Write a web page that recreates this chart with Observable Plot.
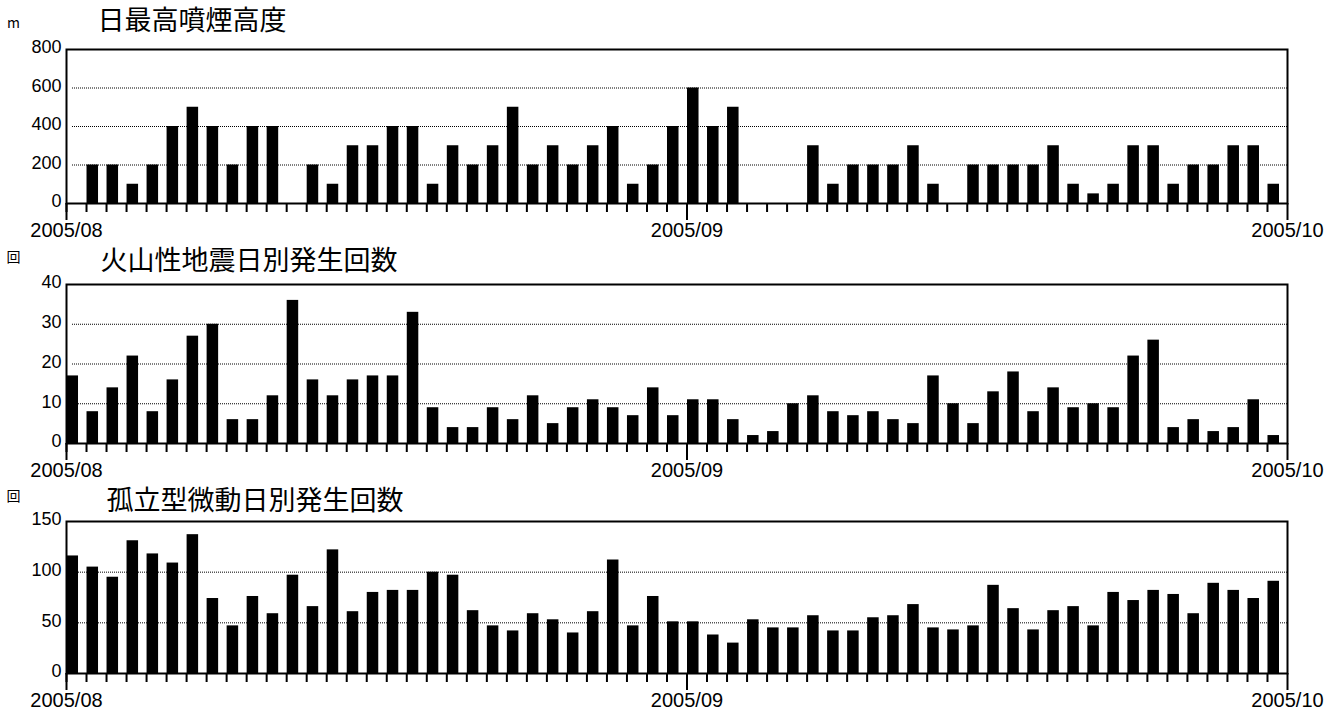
<!DOCTYPE html>
<html>
<head>
<meta charset="utf-8">
<script src="https://cdn.jsdelivr.net/npm/d3@7"></script>
<script src="https://cdn.jsdelivr.net/npm/@observablehq/plot@0.6"></script>
<style>
  body { margin: 0; background: #fff; }
  #chart { position: relative; width: 1337px; height: 711px; overflow: hidden; background: #fff; }
  #chart svg { position: absolute; left: 0; }
</style>
</head>
<body>
<div id="chart"></div>
<script>
// Observation period: one bar per day, 2005-08-01 .. 2005-09-30
const periodStart = new Date(Date.UTC(2005, 7, 1));
const periodEnd = new Date(Date.UTC(2005, 9, 1));
const days = d3.utcDay.range(periodStart, periodEnd);
const monthTicks = [periodStart, new Date(Date.UTC(2005, 8, 1)), periodEnd];

// Daily maximum plume height (m)
const plumeHeight = [
  0, 200, 200, 100, 200, 400, 500, 400, 200, 400, 400,
  0, 200, 100, 300, 300, 400, 400, 100, 300, 200,
  300, 500, 200, 300, 200, 300, 400, 100, 200, 400,
  600, 400, 500, 0, 0, 0, 300, 100, 200, 200,
  200, 300, 100, 0, 200, 200, 200, 200, 300, 100,
  50, 100, 300, 300, 100, 200, 200, 300, 300, 100
];

// Daily number of volcanic earthquakes
const earthquakeCount = [
  17, 8, 14, 22, 8, 16, 27, 30, 6, 6,
  12, 36, 16, 12, 16, 17, 17, 33, 9, 4,
  4, 9, 6, 12, 5, 9, 11, 9, 7, 14,
  7, 11, 11, 6, 2, 3, 10, 12, 8, 7,
  8, 6, 5, 17, 10, 5, 13, 18, 8, 14,
  9, 10, 9, 22, 26, 4, 6, 3, 4, 11, 2
];

// Daily number of isolated tremors
const tremorCount = [
  116, 105, 95, 131, 118, 109, 137, 74, 47, 76,
  59, 97, 66, 122, 61, 80, 82, 82, 100, 97,
  62, 47, 42, 59, 53, 40, 61, 112, 47, 76,
  51, 51, 38, 30, 53, 45, 45, 57, 42, 42,
  55, 57, 68, 45, 43, 47, 87, 64, 43, 62,
  66, 47, 80, 72, 82, 78, 59, 89, 82, 74, 91
];

const panelTitles = ["日最高噴煙高度", "火山性地震日別発生回数", "孤立型微動日別発生回数"];
const panelUnits = ["m", "回", "回"];
const yTickValues = [
  [0, 200, 400, 600, 800],
  [0, 10, 20, 30, 40],
  [0, 50, 100, 150]
];
const panelSeries = [plumeHeight, earthquakeCount, tremorCount];

// Layout of the three stacked panels
const layout = [
  {top: 0,   height: 245, marginTop: 49, marginBottom: 42, titleDx: 31, titleDy: -28.5, unitDy: -25.5},
  {top: 245, height: 235, marginTop: 39, marginBottom: 37, titleDx: 34, titleDy: -23,   unitDy: -26.5},
  {top: 480, height: 231, marginTop: 41, marginBottom: 38, titleDx: 40, titleDy: -20,   unitDy: -24.5}
];

const latin = "'Liberation Sans', Arial, sans-serif";
const cjk = "'Noto Sans CJK JP', 'Noto Sans CJK SC', sans-serif";
const container = document.getElementById("chart");

panelSeries.forEach((values, k) => {
  const L = layout[k];
  const ticks = yTickValues[k];
  const rows = days.map((date, i) => ({date, value: values[i]}));
  const svg = Plot.plot({
    width: 1337,
    height: L.height,
    marginLeft: 66,
    marginRight: 50,
    marginTop: L.marginTop,
    marginBottom: L.marginBottom,
    style: {fontFamily: latin, fontSize: "18px", color: "#000", background: "transparent", overflow: "visible"},
    x: {type: "utc", domain: [periodStart, periodEnd]},
    y: {domain: [0, ticks[ticks.length - 1]], label: null},
    marks: [
      Plot.gridY(ticks.slice(1, -1), {stroke: "#000", strokeOpacity: 1, strokeWidth: 1, strokeDasharray: "1,1", insetLeft: 6}),
      Plot.rectY(rows, {
        x1: "date",
        x2: d => d3.utcDay.offset(d.date, 1),
        y: "value",
        fill: "#000",
        insetLeft: 0.5,
        insetRight: 8
      }),
      Plot.frame({stroke: "#000", strokeWidth: 2}),
      Plot.axisY(ticks, {tickSize: 0, tickPadding: 5, fontSize: 18, dy: -2, label: null}),
      Plot.axisX(days, {tickSize: 9, strokeWidth: 2, tickFormat: () => "", label: null}),
      Plot.axisX(monthTicks, {
        tickSize: 17,
        tickPadding: 2,
        strokeWidth: 2,
        tickFormat: d3.utcFormat("%Y/%m"),
        fontSize: 20,
        label: null
      }),
      Plot.text([panelTitles[k]], {
        frameAnchor: "top-left",
        dx: L.titleDx,
        dy: L.titleDy,
        textAnchor: "start",
        lineAnchor: "middle",
        fontSize: 27,
        fontFamily: cjk
      }),
      Plot.text([panelUnits[k]], {
        frameAnchor: "top-left",
        dx: -53,
        dy: L.unitDy,
        textAnchor: "middle",
        lineAnchor: "middle",
        fontSize: 14,
        fontFamily: cjk
      })
    ]
  });
  svg.style.top = L.top + "px";
  container.appendChild(svg);
});
</script>
</body>
</html>
